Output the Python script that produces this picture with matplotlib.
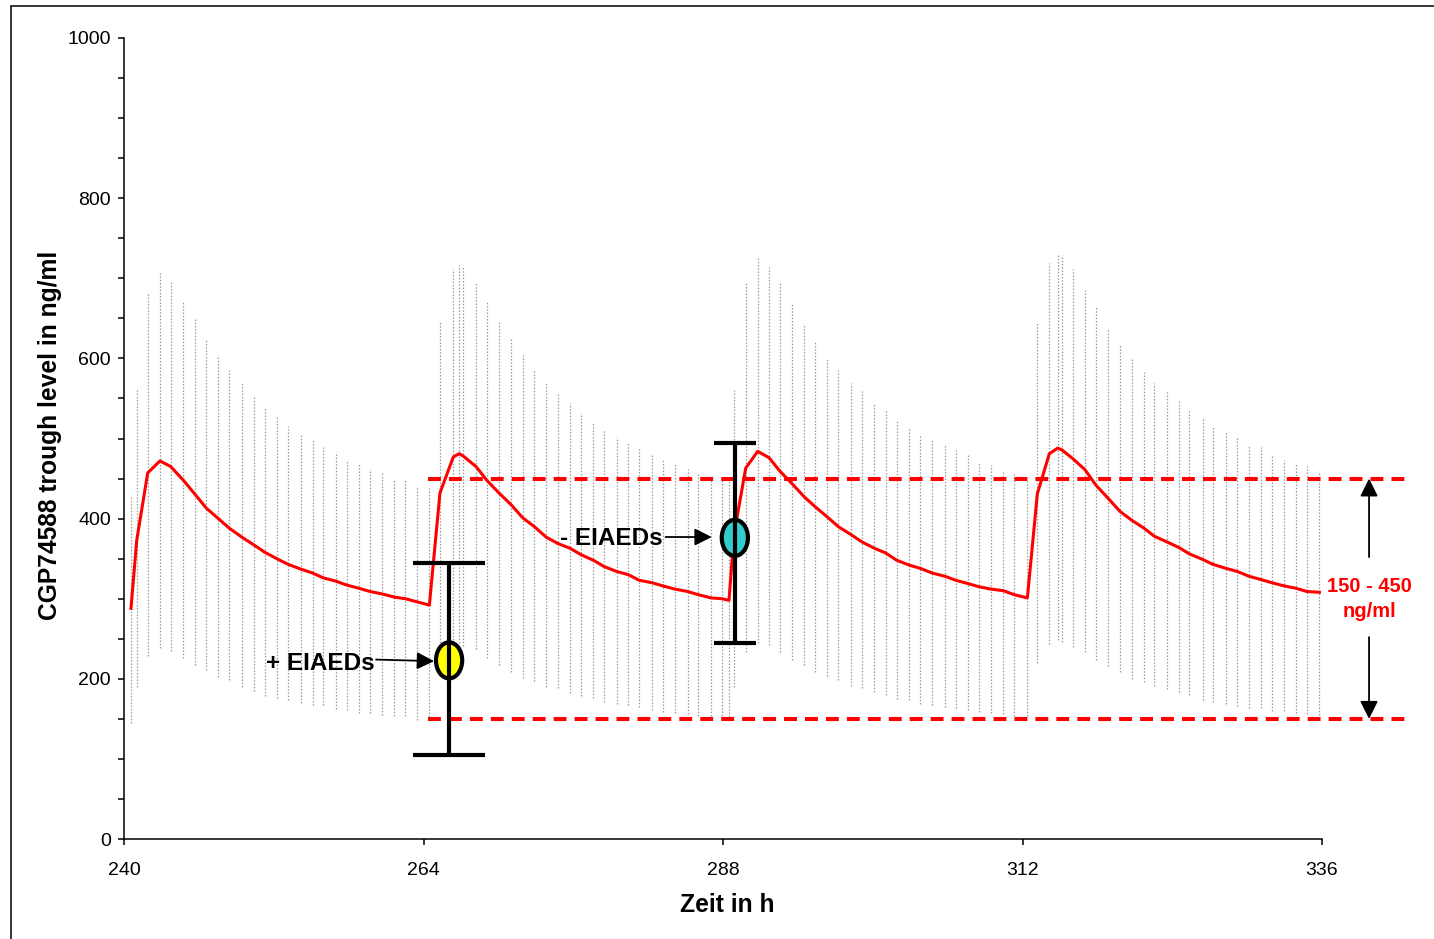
import matplotlib
matplotlib.use('Agg')
import matplotlib.pyplot as plt
from matplotlib.patches import Ellipse, Rectangle
from matplotlib.ticker import MultipleLocator

plt.rcParams['font.family'] = ['Liberation Sans', 'DejaVu Sans']

# ---------------- data ----------------
time_h = [
    240.56, 241.02, 241.90, 242.88, 243.74, 244.75, 245.71, 246.60, 247.56, 248.44,
    249.43, 250.42, 251.28, 252.24, 253.14, 254.16, 255.12, 255.97, 256.96, 257.85,
    258.83, 259.71, 260.67, 261.66, 262.54, 263.50,
    264.47, 265.32, 266.39, 266.87, 267.19, 268.21, 269.06, 270.05, 271.04, 271.95,
    272.88, 273.82, 274.75, 275.74, 276.62, 277.61, 278.49, 279.48, 280.41, 281.29,
    282.29, 283.17, 284.15, 285.17, 286.02, 287.04, 287.90,
    288.48, 288.88, 289.82, 290.78, 291.69, 292.57, 293.51, 294.52, 295.37, 296.36,
    297.24, 298.26, 299.12, 300.13, 301.04, 301.92, 302.91, 303.79, 304.77, 305.79,
    306.65, 307.61, 308.49, 309.48, 310.46, 311.34,
    312.39, 313.19, 314.15, 314.82, 315.14, 316.02, 317.01, 317.87, 318.88, 319.81,
    320.75, 321.74, 322.56, 323.56, 324.52, 325.37, 326.44, 327.24, 328.28, 329.21,
    330.15, 331.09, 331.97, 332.96, 333.92, 334.78, 335.79,
]
level_high = [
    427, 563, 682, 707, 695, 672, 651, 624, 604, 585, 569, 552, 538, 527, 516, 506,
    500, 490, 483, 472, 469, 462, 457, 449, 448, 440,
    438, 646, 712, 716, 714, 695, 671, 647, 624, 604, 585, 569, 556, 544, 532, 519,
    511, 502, 495, 489, 481, 473, 470, 462, 457, 452, 449,
    448, 560, 694, 725, 714, 694, 669, 642, 622, 600, 585, 569, 559, 543, 535, 523,
    514, 506, 500, 492, 486, 479, 471, 467, 461, 456,
    450, 645, 719, 729, 729, 712, 685, 665, 637, 618, 599, 583, 569, 558, 547, 535,
    525, 516, 509, 502, 492, 489, 481, 473, 470, 466, 460,
]
level_low = [
    145, 190, 228, 238, 235, 226, 217, 211, 202, 198, 190, 185, 178, 176, 173, 170,
    167, 167, 162, 161, 157, 157, 155, 153, 153, 149,
    148, 205, 248, 245, 241, 237, 226, 217, 209, 201, 197, 190, 188, 182, 178, 176,
    171, 169, 167, 165, 161, 159, 157, 156, 153, 153, 150,
    149, 190, 234, 245, 242, 234, 223, 217, 209, 203, 198, 191, 188, 184, 180, 175,
    173, 169, 167, 165, 163, 161, 158, 157, 156, 154,
    153, 220, 244, 248, 246, 240, 233, 223, 216, 208, 200, 196, 191, 187, 183, 180,
    174, 171, 169, 166, 163, 163, 160, 160, 157, 156, 155,
]
level_median = [
    288, 373, 457, 472, 465, 448, 430, 413, 400, 388, 377, 367, 358, 350, 343, 337,
    332, 326, 322, 317, 313, 309, 306, 302, 300, 296,
    292, 432, 477, 481, 478, 465, 448, 432, 417, 401, 390, 377, 369, 363, 355, 348,
    340, 334, 330, 323, 320, 316, 312, 309, 305, 301, 300,
    298, 380, 463, 484, 476, 459, 444, 427, 415, 402, 390, 380, 371, 363, 357, 348,
    342, 338, 332, 328, 323, 319, 315, 312, 310, 305,
    301, 431, 481, 488, 486, 475, 461, 442, 425, 409, 398, 388, 378, 371, 364, 356,
    349, 343, 338, 334, 328, 324, 320, 316, 313, 309, 308,
]

target_range = [150, 450]
target_span_h = [264.36, 342.9]

eiaed_labels = ['+ EIAEDs', '- EIAEDs']
eiaed_time = [266.05, 288.95]
eiaed_mean = [223, 376]
eiaed_upper = [345, 494]
eiaed_lower = [105, 245]
eiaed_colors = ['#FFFF00', '#33CCCC']

x_ticks = [240, 264, 288, 312, 336]
y_ticks = [0, 200, 400, 600, 800, 1000]

# ---------------- figure ----------------
W, H = 1434, 939
fig = plt.figure(figsize=(W / 100, H / 100), dpi=100)
ax = fig.add_axes([124 / W, 1 - 839 / H, (1322 - 124) / W, (839 - 38) / H])
ax.set_xlim(240, 336)
ax.set_ylim(0, 1000)

# variability range (dotted gray high-low lines)
ax.vlines(time_h, level_low, level_high, colors='#9a9a9a',
          linestyles=(0, (1.2, 1.4)), linewidth=0.9, zorder=1)

# median line
ax.plot(time_h, level_median, color='#FF0000', lw=2.2, zorder=3)

# target range dashed lines
for lvl in target_range:
    ax.plot(target_span_h, [lvl, lvl], color='#FF0000', lw=2.9,
            dashes=(3.2, 2.0), clip_on=False, zorder=2)

# EIAED points with error bars
cap_sizes = [26, 15]
for i in range(len(eiaed_labels)):
    ell = Ellipse((eiaed_time[i], eiaed_mean[i]), width=2.1, height=45,
                  facecolor=eiaed_colors[i], edgecolor='black', lw=3, zorder=5)
    ax.add_patch(ell)
    ax.errorbar([eiaed_time[i]], [eiaed_mean[i]],
                yerr=[[eiaed_mean[i] - eiaed_lower[i]], [eiaed_upper[i] - eiaed_mean[i]]],
                fmt='none', ecolor='black', elinewidth=3, capsize=cap_sizes[i],
                capthick=3, zorder=6)

# labels with arrows
ax.text(251.4, 219, eiaed_labels[0], fontsize=17.5, fontweight='bold',
        va='center', ha='left', zorder=7)
ax.annotate('', xy=(264.85, 222), xytext=(260.2, 224),
            arrowprops=dict(arrowstyle='-|>', color='black', lw=1.3,
                            mutation_scale=26, shrinkA=0, shrinkB=0), zorder=7)
ax.text(274.9, 375, eiaed_labels[1], fontsize=17.5, fontweight='bold',
        va='center', ha='left', zorder=7)
ax.annotate('', xy=(287.1, 377), xytext=(283.4, 377),
            arrowprops=dict(arrowstyle='-|>', color='black', lw=1.3,
                            mutation_scale=26, shrinkA=0, shrinkB=0), zorder=7)

# range annotation on the right
xr = 339.77
ax.annotate('', xy=(xr, target_range[1]), xytext=(xr, 352),
            arrowprops=dict(arrowstyle='-|>', color='black', lw=1.3,
                            mutation_scale=27, shrinkA=0, shrinkB=0),
            annotation_clip=False)
ax.annotate('', xy=(xr, target_range[0]), xytext=(xr, 252),
            arrowprops=dict(arrowstyle='-|>', color='black', lw=1.3,
                            mutation_scale=27, shrinkA=0, shrinkB=0),
            annotation_clip=False)
ax.text(xr, 315, '150 - 450', color='#FF0000', fontsize=14.5, fontweight='bold',
        ha='center', va='center', clip_on=False)
ax.text(xr, 284, 'ng/ml', color='#FF0000', fontsize=14.5, fontweight='bold',
        ha='center', va='center', clip_on=False)

# axes styling
for s in ['top', 'right']:
    ax.spines[s].set_visible(False)
for s in ['left', 'bottom']:
    ax.spines[s].set_linewidth(1.1)
ax.set_xticks(x_ticks)
ax.set_xticklabels([str(v) for v in x_ticks])
ax.set_yticks(y_ticks)
ax.set_yticklabels([str(v) for v in y_ticks])
ax.yaxis.set_minor_locator(MultipleLocator(50))
ax.tick_params(axis='y', which='both', direction='out', length=4.5, width=1.1,
               labelsize=14, pad=5)
ax.tick_params(axis='x', which='both', direction='out', length=4.5, width=1.1,
               labelsize=14, pad=12)

fig.text(50 / W, 1 - 435 / H, 'CGP74588 trough level in ng/ml', rotation=90,
         ha='center', va='center', fontsize=17.7, fontweight='bold')
fig.text(727 / W, 1 - 905 / H, 'Zeit in h', ha='center', va='center',
         fontsize=17.7, fontweight='bold')

# outer frame
fig.add_artist(Rectangle((10.5 / W, -0.1), 2.0, (1 - 5.5 / H) + 0.1,
                         transform=fig.transFigure, fill=False,
                         edgecolor='black', lw=1.1))

fig.savefig('out.png', dpi=100)
